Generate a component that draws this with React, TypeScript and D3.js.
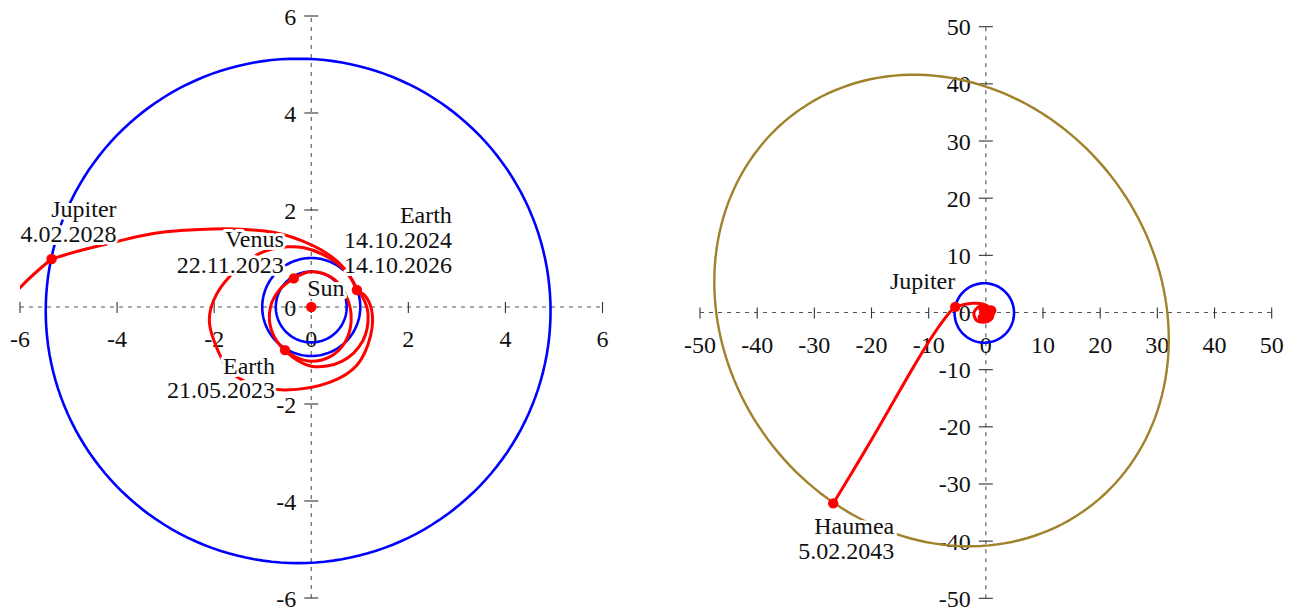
import React, { useEffect, useRef } from 'react';
import * as d3 from 'd3';

// ---------- data (AU) ----------
const innerTicks = [-6, -4, -2, 0, 2, 4, 6];
const outerTicks = [-50, -40, -30, -20, -10, 0, 10, 20, 30, 40, 50];

// orbits: [centerX, centerY, spreadX, spreadY, covariance]
const venusOrbit = [0, 0, 0.73, 0.73, 0];
const earthOrbit = [0, 0, 1.01, 1.01, 0];
const jupiterOrbit = [-0.27, -0.08, 5.2, 5.2, 0];
const haumeaOrbit = [-7.75, 0.35, 39.75, 41.25, -200];

// trajectory legs, [x, y] in AU
const legEarthVenus = [[-0.54, -0.89], [-0.28, -1.05], [0, -1.12], [0.38, -1.03], [0.66, -0.78], [0.8, -0.46], [0.82, -0.14], [0.76, 0.13], [0.57, 0.48], [0.25, 0.69], [-0.06, 0.72], [-0.36, 0.59]];
const legVenusEarth = [[-0.36, 0.59], [-0.64, 0.37], [-0.84, 0], [-0.82, -0.48], [-0.54, -0.9], [0, -1.22], [0.63, -1.12], [1.06, -0.7], [1.17, -0.15], [1.06, 0.2], [0.94, 0.35]];
const legEarthEarth = [[0.94, 0.35], [0.8, 0.62], [0.56, 0.88], [0.2, 1.1], [-0.15, 1.22], [-0.49, 1.24], [-1.05, 1.11], [-1.7, 0.61], [-2.01, 0.14], [-2.1, -0.27], [-2.01, -0.68], [-1.67, -1.33], [-1.2, -1.6], [-0.54, -1.71], [0.39, -1.55], [0.94, -1.2], [1.22, -0.6], [1.25, -0.1], [1.12, 0.22], [0.94, 0.35]];
const legEarthJupiter = [[0.94, 0.35], [0.78, 0.66], [0.55, 0.93], [0.2, 1.18], [-0.2, 1.37], [-0.6, 1.5], [-1.0, 1.57], [-1.6, 1.61], [-2.3, 1.6], [-3.0, 1.55], [-3.6, 1.45], [-4.0, 1.35], [-4.7, 1.18], [-5.35, 0.99]];
const legJupiterHaumea = [[-5.35, 0.99], [-6.0, 0.4], [-7.3, -1.2], [-9.2, -3.9], [-12.7, -9.6], [-17.3, -17.6], [-21.8, -25.3], [-26.7, -33.4]];

const sunPos = [0, 0];
const earth2023 = [-0.54, -0.89];
const venus2023 = [-0.36, 0.59];
const earth2024 = [0.94, 0.35];
const jupiter2028 = [-5.35, 0.99];
const haumea2043 = [-26.7, -33.4];

const innerLabels = [
  { at: jupiter2028, lines: ['Jupiter', '4.02.2028'] },
  { at: venus2023, lines: ['Venus', '22.11.2023'] },
  { at: earth2023, lines: ['Earth', '21.05.2023'] },
  { at: earth2024, lines: ['Earth', '14.10.2024', '14.10.2026'] },
  { at: sunPos, lines: ['Sun'] },
];
const outerLabels = [
  { at: jupiter2028, lines: ['Jupiter'] },
  { at: haumea2043, lines: ['Haumea', '5.02.2043'] },
];

// ---------- layout ----------
const W = 1299, H = 613;
const FONT = '"Liberation Serif", "Times New Roman", serif';
const RED = '#ff0000', BLUE = '#0000ff', GOLD = '#a0822a';
// label placement: [dx of anchor, dy of first baseline, anchor, line step]
const innerPlace = [[65, -42.3, 'end', 25], [-10, -31, 'end', 25.2], [-10, 24, 'end', 23.5], [95, -66.7, 'end', 24.6], [-4, -11, 'start', 25]];
const outerPlace = [[0, -17.5, 'end', 25], [61, 31, 'end', 25]];

export default function App() {
  const ref = useRef<SVGSVGElement>(null);
  useEffect(() => {
    const svg = d3.select(ref.current);
    svg.selectAll('*').remove();

    const panels = [
      { x: d3.scaleLinear().domain([-6, 6]).range([20, 602.5]), y: d3.scaleLinear().domain([-6, 6]).range([598, 16]), ticks: innerTicks, big: false, id: 'pL' },
      { x: d3.scaleLinear().domain([-50, 50]).range([700, 1271.7]), y: d3.scaleLinear().domain([-50, 50]).range([598.3, 26.7]), ticks: outerTicks, big: true, id: 'pR' },
    ];

    const ellipse = (o: number[]) => {
      const [cx, cy, sx, sy, c] = o;
      const k = c / sx;
      const l = Math.sqrt(sy * sy - k * k);
      return d3.range(0, 361, 2).map((deg) => {
        const t = (deg * Math.PI) / 180;
        return [cx + sx * Math.cos(t), cy + k * Math.cos(t) + l * Math.sin(t)];
      });
    };

    panels.forEach((p) => {
      const g = svg.append('g');
      const x0 = p.x(0), y0 = p.y(0);
      const dmin = p.ticks[0], dmax = p.ticks[p.ticks.length - 1];
      g.append('clipPath').attr('id', p.id).append('rect')
        .attr('x', p.x(dmin)).attr('y', p.y(dmax)).attr('width', p.x(dmax) - p.x(dmin)).attr('height', p.y(dmin) - p.y(dmax));

      // axes
      g.append('line').attr('x1', p.x(dmin)).attr('x2', p.x(dmax)).attr('y1', y0).attr('y2', y0)
        .attr('stroke', '#555').attr('stroke-width', 1.1).attr('stroke-dasharray', '4 5');
      g.append('line').attr('x1', x0).attr('x2', x0).attr('y1', p.y(dmin)).attr('y2', p.y(dmax))
        .attr('stroke', '#555').attr('stroke-width', 1.1).attr('stroke-dasharray', '4 5');
      p.ticks.forEach((t) => {
        g.append('line').attr('x1', p.x(t)).attr('x2', p.x(t)).attr('y1', y0 - 5).attr('y2', y0 + 6)
          .attr('stroke', '#333').attr('stroke-width', 1.1);
        g.append('line').attr('x1', x0 - 7).attr('x2', x0 + 7).attr('y1', p.y(t)).attr('y2', p.y(t))
          .attr('stroke', '#333').attr('stroke-width', 1.1);
        g.append('text').attr('x', p.x(t)).attr('y', y0 + 40).attr('text-anchor', 'middle')
          .attr('font-family', FONT).attr('font-size', 24).attr('fill', '#111').text(String(t));
        g.append('text').attr('x', x0 - 15).attr('y', p.y(t) + 8.5).attr('text-anchor', 'end')
          .attr('font-family', FONT).attr('font-size', 24).attr('fill', '#111').text(String(t));
      });

      const line = d3.line<number[]>().x((d) => p.x(d[0])).y((d) => p.y(d[1])).curve(d3.curveCatmullRom.alpha(0.5));
      const closed = d3.line<number[]>().x((d) => p.x(d[0])).y((d) => p.y(d[1]));
      const body = g.append('g').attr('clip-path', `url(#${p.id})`);

      // orbits
      const orbits: [number[], string][] = p.big
        ? [[jupiterOrbit, BLUE], [haumeaOrbit, GOLD]]
        : [[venusOrbit, BLUE], [earthOrbit, BLUE], [jupiterOrbit, BLUE]];
      orbits.forEach(([o, col]) => {
        body.append('path').attr('d', closed(ellipse(o)) + 'Z').attr('fill', 'none')
          .attr('stroke', col).attr('stroke-width', col === GOLD ? 2.4 : 2.6);
      });

      // trajectory
      [legEarthVenus, legVenusEarth, legEarthEarth, legEarthJupiter, legJupiterHaumea].forEach((leg) => {
        body.append('path').attr('d', line(leg as number[][])).attr('fill', 'none')
          .attr('stroke', RED).attr('stroke-width', 3).attr('stroke-linecap', 'round');
      });

      const dots = p.big
        ? [sunPos, earth2023, venus2023, earth2024, jupiter2028, haumea2043]
        : [sunPos, earth2023, venus2023, earth2024, jupiter2028];
      dots.forEach((d) => {
        body.append('circle').attr('cx', p.x(d[0])).attr('cy', p.y(d[1])).attr('r', 5.2).attr('fill', RED);
      });

      // labels
      const labels = p.big ? outerLabels : innerLabels;
      const place = p.big ? outerPlace : innerPlace;
      labels.forEach((lab, i) => {
        const [dx, dy, anchor, step] = place[i] as [number, number, string, number];
        const ax = p.x(lab.at[0]) + dx;
        const ay = p.y(lab.at[1]) + dy;
        lab.lines.forEach((txt, j) => {
          g.append('text').attr('x', ax).attr('y', ay + j * step).attr('text-anchor', anchor)
            .attr('font-family', FONT).attr('font-size', 24).attr('fill', '#111')
            .attr('stroke', '#fff').attr('stroke-width', 6).attr('stroke-linejoin', 'round')
            .attr('paint-order', 'stroke').text(txt);
        });
      });
    });
  }, []);

  return (
    <svg ref={ref} width={W} height={H} style={{ position: 'absolute', left: 0, top: 0, background: '#fff' }} />
  );
}
